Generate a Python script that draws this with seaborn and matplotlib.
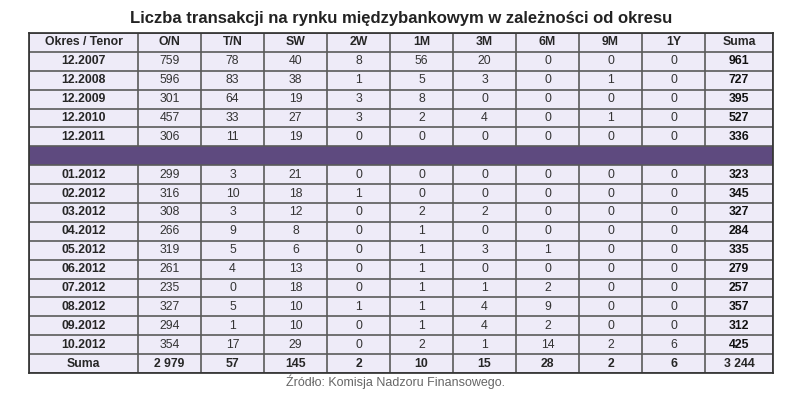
import numpy as np
import matplotlib.pyplot as plt
import seaborn as sns
from matplotlib.colors import ListedColormap

sns.set_theme(style='white')
plt.rcParams['font.family'] = ['Liberation Sans', 'DejaVu Sans']

columns = ['Okres / Tenor', 'O/N', 'T/N', 'SW', '2W', '1M', '3M', '6M', '9M', '1Y', 'Suma']
periods = ['12.2007', '12.2008', '12.2009', '12.2010', '12.2011', '',
           '01.2012', '02.2012', '03.2012', '04.2012', '05.2012', '06.2012',
           '07.2012', '08.2012', '09.2012', '10.2012']
on = [759, 596, 301, 457, 306, None, 299, 316, 308, 266, 319, 261, 235, 327, 294, 354]
tn = [78, 83, 64, 33, 11, None, 3, 10, 3, 9, 5, 4, 0, 5, 1, 17]
sw = [40, 38, 19, 27, 19, None, 21, 18, 12, 8, 6, 13, 18, 10, 10, 29]
w2 = [8, 1, 3, 3, 0, None, 0, 1, 0, 0, 0, 0, 0, 1, 0, 0]
m1 = [56, 5, 8, 2, 0, None, 0, 0, 2, 1, 1, 1, 1, 1, 1, 2]
m3 = [20, 3, 0, 4, 0, None, 0, 0, 2, 0, 3, 0, 1, 4, 4, 1]
m6 = [0, 0, 0, 0, 0, None, 0, 0, 0, 0, 1, 0, 2, 9, 2, 14]
m9 = [0, 1, 0, 1, 0, None, 0, 0, 0, 0, 0, 0, 0, 0, 0, 2]
y1 = [0, 0, 0, 0, 0, None, 0, 0, 0, 0, 0, 0, 0, 0, 0, 6]
suma = [961, 727, 395, 527, 336, None, 323, 345, 327, 284, 335, 279, 257, 357, 312, 425]
totals = ['2 979', '57', '145', '2', '10', '15', '28', '2', '6', '3 244']
col_widths = [109, 63, 63, 63, 63, 63, 63, 63, 63, 63, 68]

series = [on, tn, sw, w2, m1, m3, m6, m9, y1, suma]
n_rows = len(periods) + 2
sep_row = 1 + periods.index('')
x_edges = np.concatenate([[0], np.cumsum(col_widths)])
y_edges = np.arange(n_rows + 1)

# cell colour codes: 0 = lavender, 1 = purple separator
codes = np.zeros((n_rows, len(columns)))
codes[sep_row] = 1
cmap = ListedColormap(['#EEEBF8', '#5E4A7F'])

fig = plt.figure(figsize=(7.88, 4.07), dpi=100)
ax = fig.add_axes([29 / 788, 1 - 373 / 407, 744 / 788, 340 / 407])
ax.pcolormesh(x_edges, y_edges, codes, cmap=cmap, vmin=0, vmax=1)
grid_kw = dict(color='#5a5a5a', linewidth=1.2)
ax.hlines(y_edges, x_edges[0], x_edges[-1], **grid_kw)
ax.vlines(x_edges, 0, sep_row, **grid_kw)
ax.vlines(x_edges, sep_row + 1, n_rows, **grid_kw)
ax.vlines([x_edges[0], x_edges[-1]], sep_row, sep_row + 1, **grid_kw)
ax.set_xlim(x_edges[0], x_edges[-1])
ax.set_ylim(n_rows, 0)
ax.set_xticks([])
ax.set_yticks([])
for s in ax.spines.values():
    s.set_color('#333333')

centers = (x_edges[:-1] + x_edges[1:]) / 2
fs = 8.8
for j, c in enumerate(columns):
    ax.text(centers[j], 0.5, c, ha='center', va='center', fontsize=fs, fontweight='bold')
for i, p in enumerate(periods):
    r = i + 1
    if p == '':
        continue
    ax.text(centers[0], r + 0.5, p, ha='center', va='center', fontsize=fs, fontweight='bold')
    for j, vals in enumerate(series):
        last = j == len(series) - 1
        ax.text(centers[j + 1], r + 0.5, str(vals[i]), ha='center', va='center',
                fontsize=fs, color='#111111' if last else '#333333',
                fontweight='bold' if last else 'normal')
r = n_rows - 1
ax.text(centers[0], r + 0.5, 'Suma', ha='center', va='center', fontsize=fs, fontweight='bold')
for j, t in enumerate(totals):
    ax.text(centers[j + 1], r + 0.5, t, ha='center', va='center', fontsize=fs, fontweight='bold')

fig.text(401 / 788, 1 - 18 / 407, 'Liczba transakcji na rynku międzybankowym w zależności od okresu',
         ha='center', va='center', fontsize=12, fontweight='bold', color='#222222')
fig.text(396 / 788, 1 - 382 / 407, 'Źródło: Komisja Nadzoru Finansowego.',
         ha='center', va='center', fontsize=9, color='#666666')

fig.savefig('out.png', dpi=100)
